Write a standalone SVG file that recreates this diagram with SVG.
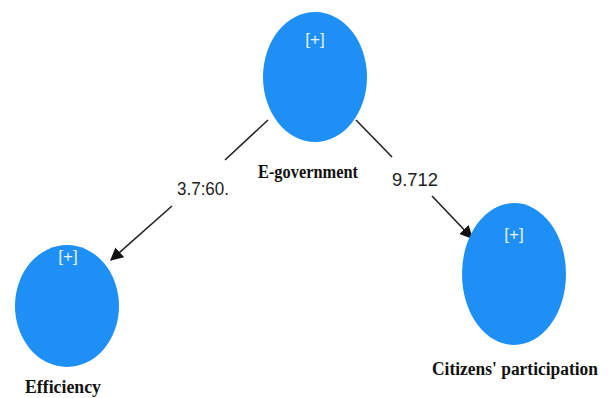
<svg xmlns="http://www.w3.org/2000/svg" width="608" height="398" viewBox="0 0 608 398">
<defs>
<style>
.node{fill:#1e90f5;}
.plus{font-family:"Liberation Sans",Arial,sans-serif;font-size:17px;fill:#e8f2ff;text-anchor:middle;}
.name{font-family:"Liberation Serif","Times New Roman",serif;font-size:18px;font-weight:bold;fill:#111;text-anchor:middle;}
.edge{stroke:#222;stroke-width:1.6;fill:none;}
.lbl{font-family:"Liberation Sans",Arial,sans-serif;font-size:18px;fill:#222;text-anchor:middle;}
</style>
<marker id="arr" viewBox="0 0 10 10" refX="9" refY="5" markerWidth="13" markerHeight="13" markerUnits="userSpaceOnUse" orient="auto">
<path d="M0,0 L10,5 L0,10 z" fill="#111"/>
</marker>
</defs>
<rect width="608" height="398" fill="#fff"/>
<g id="connectors">
<line class="edge" x1="268" y1="120" x2="225" y2="160"/>
<line class="edge" x1="172" y1="206" x2="111" y2="260" marker-end="url(#arr)"/>
<text class="lbl" x="203" y="195" textLength="52" lengthAdjust="spacingAndGlyphs">3.7:60.</text>
<line class="edge" x1="356" y1="120" x2="392" y2="157"/>
<line class="edge" x1="432" y1="196" x2="472" y2="238" marker-end="url(#arr)"/>
<text class="lbl" x="415" y="186" textLength="46" lengthAdjust="spacingAndGlyphs">9.712</text>
</g>
<g id="egov">
<ellipse class="node" cx="315" cy="77" rx="52" ry="65"/>
<text class="plus" x="315" y="45">[+]</text>
<text class="name" x="308" y="178" textLength="100" lengthAdjust="spacingAndGlyphs">E-government</text>
</g>
<g id="efficiency">
<ellipse class="node" cx="67" cy="306" rx="52" ry="61"/>
<text class="plus" x="68" y="262">[+]</text>
<text class="name" x="63" y="393" textLength="76" lengthAdjust="spacingAndGlyphs">Efficiency</text>
</g>
<g id="citizens">
<ellipse class="node" cx="514" cy="274" rx="52" ry="71"/>
<text class="plus" x="514" y="240">[+]</text>
<text class="name" x="515" y="375" textLength="166" lengthAdjust="spacingAndGlyphs">Citizens' participation</text>
</g>
</svg>
